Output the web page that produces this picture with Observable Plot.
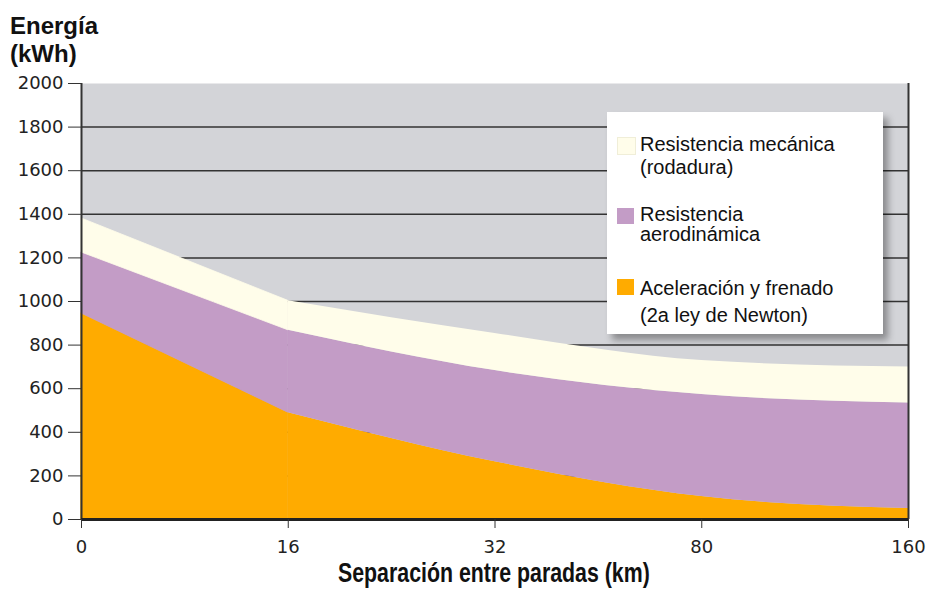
<!DOCTYPE html>
<html>
<head>
<meta charset="utf-8">
<script src="https://cdn.jsdelivr.net/npm/d3@7"></script>
<script src="https://cdn.jsdelivr.net/npm/@observablehq/plot@0.6"></script>
<style>
  html, body { margin: 0; padding: 0; background: #fff; }
  #wrap { position: relative; width: 929px; height: 590px; font-family: "Liberation Sans", Arial, sans-serif; }
  #chart svg { display: block; }
  #ytitle { position: absolute; left: 10px; top: 12px; font-size: 24px; line-height: 28px; font-weight: bold; color: #111; }
  #xtitle { position: absolute; left: 338px; top: 558px; font-size: 27px; line-height: 30px; font-weight: bold; color: #111;
            white-space: nowrap; transform-origin: 0 0; transform: scaleX(0.79); }
  #legend { position: absolute; left: 607px; top: 112px; width: 276px; height: 222px; background: #fff;
            box-shadow: 5px 6px 7px rgba(0,0,0,0.35); }
  .item { position: absolute; left: 10px; font-size: 20px; color: #111; line-height: 23px; }
  .sw { position: absolute; left: 0; width: 17px; height: 16px; }
  .txt { position: absolute; left: 23px; white-space: nowrap; }
</style>
</head>
<body>
<div id="wrap">
  <div id="chart"></div>
  <div id="ytitle">Energía<br>(kWh)</div>
  <div id="xtitle">Separación entre paradas (km)</div>
  <div id="legend"></div>
</div>
<script>
// Categories (x positions, equally spaced)
const distances = ["0", "16", "32", "80", "160"];
// Series (stack order bottom -> top)
const series = ["Aceleración y frenado", "Resistencia aerodinámica", "Resistencia mecánica (rodadura)"];
const legendLines = [["Resistencia mecánica", "(rodadura)"], ["Resistencia", "aerodinámica"], ["Aceleración y frenado", "(2a ley de Newton)"]];
const colors = ["#FFAB00", "#C39CC6", "#FFFDEA"];
// Values (kWh)
const acceleration = [945, 490, 265, 105, 50];
const aerodynamic = [280, 378, 418, 468, 484];
const rolling = [156, 135, 170, 156, 165];
const yTicks = [0, 200, 400, 600, 800, 1000, 1200, 1400, 1600, 1800, 2000];

const values = [acceleration, aerodynamic, rolling];
const data = [];
series.forEach((s, si) => distances.forEach((d, i) => data.push({i, series: s, value: values[si][i]})));
// first segment (0 -> 16) is straight; the rest is a smooth curve
const firstSeg = data.filter(d => d.i <= 1);
const restSeg = data.filter(d => d.i >= 1);

const tickFont = "DejaVu Sans, Liberation Sans, sans-serif";

const plot = Plot.plot({
  width: 929,
  height: 590,
  marginLeft: 81,
  marginRight: 21,
  marginTop: 83,
  marginBottom: 71,
  style: {fontFamily: tickFont, color: "#222", background: "transparent"},
  x: {type: "linear", domain: [0, distances.length - 1]},
  y: {domain: [0, 2000]},
  color: {domain: series, range: colors},
  marks: [
    Plot.frame({fill: "#D3D4D8", stroke: null}),
    Plot.ruleY(yTicks.filter(v => v > 0 && v < 2000), {stroke: "#333", strokeWidth: 1.5}),
    Plot.areaY(restSeg, {x: "i", y: "value", fill: "series", order: series, curve: "monotone-x"}),
    Plot.areaY(firstSeg, {x: "i", y: "value", fill: "series", stroke: "series", strokeWidth: 0.8, order: series, curve: "linear"}),
    Plot.ruleX([0, distances.length - 1], {stroke: "#333", strokeWidth: 2}),
    Plot.ruleY([0], {stroke: "#222", strokeWidth: 3}),
    Plot.axisY({ticks: yTicks, tickFormat: d3.format("d"), tickSize: 13, tickPadding: 5, fontSize: 18, label: null, stroke: "#333"}),
    Plot.axisX({ticks: d3.range(distances.length), tickFormat: i => distances[i], tickSize: 9, tickPadding: 12, fontSize: 18, label: null, stroke: "#333"})
  ]
});
document.getElementById("chart").appendChild(plot);

// Legend (HTML, real text)
const legend = document.getElementById("legend");
const tops = [21, 92, 163];
const lineHeights = [23, 20, 27];
const order = [2, 1, 0];
order.forEach((si, k) => {
  const item = document.createElement("div");
  item.className = "item";
  item.style.top = tops[k] + "px";
  const sw = document.createElement("div");
  sw.className = "sw";
  sw.style.top = "4px";
  sw.style.background = colors[si];
  if (si === 2) sw.style.border = "1px solid #f0eed8";
  item.appendChild(sw);
  const t = document.createElement("div");
  t.className = "txt";
  t.style.lineHeight = lineHeights[k] + "px";
  t.innerHTML = legendLines[k].join("<br>");
  item.appendChild(t);
  legend.appendChild(item);
});
</script>
</body>
</html>
